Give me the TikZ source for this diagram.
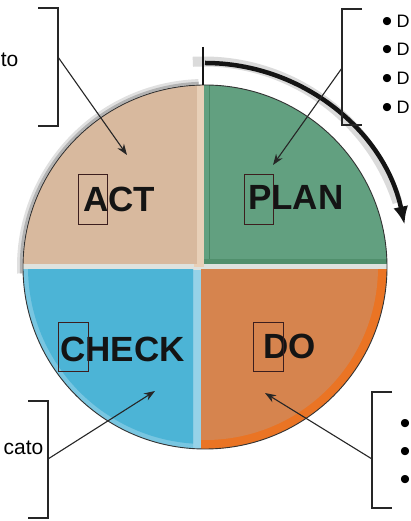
\documentclass[tikz,border=0pt]{standalone}
\usepackage{fontspec}
\setmainfont{Liberation Sans}
\usetikzlibrary{arrows.meta}
\definecolor{actc}{RGB}{216,185,158}
\definecolor{actlight}{RGB}{232,208,184}
\definecolor{planc}{RGB}{98,160,128}
\definecolor{plandark}{RGB}{72,135,100}
\definecolor{checkc}{RGB}{76,180,214}
\definecolor{checklight}{RGB}{150,210,232}
\definecolor{doc}{RGB}{214,132,78}
\definecolor{dorim}{RGB}{234,116,36}
\definecolor{sepc}{RGB}{222,226,222}
\definecolor{boxc}{RGB}{60,30,30}
\definecolor{inkc}{RGB}{20,20,20}
\tikzset{
  phase/.style={font=\fontsize{35}{35}\bfseries\selectfont, text=inkc, inner sep=0pt, anchor=base west},
  letterbox/.style={draw=boxc, line width=0.8pt, minimum width=29pt, minimum height=50pt, inner sep=0pt},
  bracket/.style={draw=black!85, line width=1.1pt},
  pointer/.style={draw=black!85, line width=1.1pt, -{Stealth[length=11pt,width=8pt]}},
  sidetext/.style={font=\fontsize{21}{21}\selectfont, inner sep=0pt},
  bullettext/.style={font=\fontsize{18}{18}\selectfont, inner sep=0pt, anchor=base west},
  bulletdot/.style={font=\fontsize{30}{30}\selectfont, inner sep=0pt, anchor=base},
}
\begin{document}
\begin{tikzpicture}[x=1pt,y=1pt]
\useasboundingbox (0,0) rectangle (411,521);
\clip (0,0) rectangle (411,521);
\fill[white] (0,0) rectangle (411,521);
\coordinate (O) at (205,254);
% grey shadow round ACT
\draw[black!12, line width=6pt] (O) ++(92:185) arc[start angle=92,end angle=182,radius=185];
\draw[black!30, line width=2.5pt] (O) ++(92:184) arc[start angle=92,end angle=182,radius=184];
% pie quadrants
\begin{scope}
  \clip (O) circle[radius=182];
  \fill[sepc] (O) circle[radius=182];
  \fill[actlight] (194,254) rectangle (204,440);
  \fill[actc] (0,257) rectangle (197,521);
  \fill[planc] (204,257) rectangle (411,521);
  \draw[plandark, line width=0.8pt] (209,257) -- (209,440);
  \fill[plandark!70!planc] (204,257) rectangle (411,262);
  \fill[checklight] (188,0) rectangle (204,251);
  \begin{scope}
    \clip (0,0) rectangle (193,251);
    \fill[checklight!60!checkc] (O) circle[radius=182];
    \fill[checkc] (O) circle[radius=177];
  \end{scope}
  \begin{scope}
    \clip (201,0) rectangle (411,251);
    \fill[dorim] (O) circle[radius=182];
    \fill[doc] (O) circle[radius=173];
  \end{scope}
\end{scope}
\draw[black!80, line width=0.9pt] (O) circle[radius=182];
% cycle arrow
\draw[black!14, line width=10pt] ([shift={(-1.5,1.5)}]O) ++(93:204) arc[start angle=93,end angle=18,radius=204];
\draw[inkc, line width=4.5pt, -{Latex[length=18pt,width=15pt]}] (O) ++(90:204) arc[start angle=90,end angle=12,radius=204];
\coordinate (tickTop) at (203,474);
\coordinate (tickBot) at (203,436);
\draw[inkc, line width=2pt] (tickTop) -- (tickBot);
% phase labels
\node[phase] (act) at (83,309) {ACT};
\node[phase] (plan) at (248,311) {PLAN};
\node[phase] (check) at (60,159) {CHECK};
\node[phase] (do) at (263,162) {DO};
\node[letterbox] (boxA) at (92.5,322) {};
\node[letterbox] (boxP) at (258.5,322) {};
\node[letterbox, minimum width=30pt, minimum height=49pt] (boxC) at (73,174.5) {};
\node[letterbox, minimum width=30pt, minimum height=49pt] (boxD) at (268,174.5) {};
% brackets
\coordinate (tlA) at (38,513); \coordinate (tlB) at (58,513);
\coordinate (tlC) at (58,395); \coordinate (tlD) at (38,395);
\coordinate (tlM) at (58,464);
\draw[bracket] (tlA) -- (tlB) -- (tlC) -- (tlD);
\coordinate (trA) at (362,512); \coordinate (trB) at (342,512);
\coordinate (trC) at (342,396); \coordinate (trD) at (362,396);
\coordinate (trM) at (342,453);
\draw[bracket] (trA) -- (trB) -- (trC) -- (trD);
\coordinate (blA) at (28,120); \coordinate (blB) at (48,120);
\coordinate (blC) at (48,3); \coordinate (blD) at (28,3);
\coordinate (blM) at (48,62);
\draw[bracket] (blA) -- (blB) -- (blC) -- (blD);
\coordinate (brA) at (392,129); \coordinate (brB) at (372,129);
\coordinate (brC) at (372,13); \coordinate (brD) at (392,13);
\coordinate (brM) at (372,62);
\draw[bracket] (brA) -- (brB) -- (brC) -- (brD);
% pointers
\coordinate (actTip) at (127,366);
\coordinate (planTip) at (273,356);
\coordinate (checkTip) at (155,130);
\coordinate (doTip) at (265,128);
\draw[pointer] (tlM) -- (actTip);
\draw[pointer] (trM) -- (planTip);
\draw[pointer] (blM) -- (checkTip);
\draw[pointer] (brM) -- (doTip);
% side texts
\node[sidetext, anchor=base east] (tlText) at (18.5,454) {to};
\node[sidetext, anchor=base east] (blText) at (43.5,66) {cato};
\node[bulletdot] (tb1) at (387,489) {•};
\node[bulletdot] (tb2) at (387,461) {•};
\node[bulletdot] (tb3) at (387,432) {•};
\node[bulletdot] (tb4) at (387,403) {•};
\node[bullettext] (tr1) at (396.5,493) {D};
\node[bullettext] (tr2) at (396.5,465) {D};
\node[bullettext] (tr3) at (396.5,436) {D};
\node[bullettext] (tr4) at (396.5,407) {D};
\node[bulletdot] (br1) at (405,87) {•};
\node[bulletdot] (br2) at (405,59) {•};
\node[bulletdot] (br3) at (405,31) {•};
\end{tikzpicture}
\end{document}
